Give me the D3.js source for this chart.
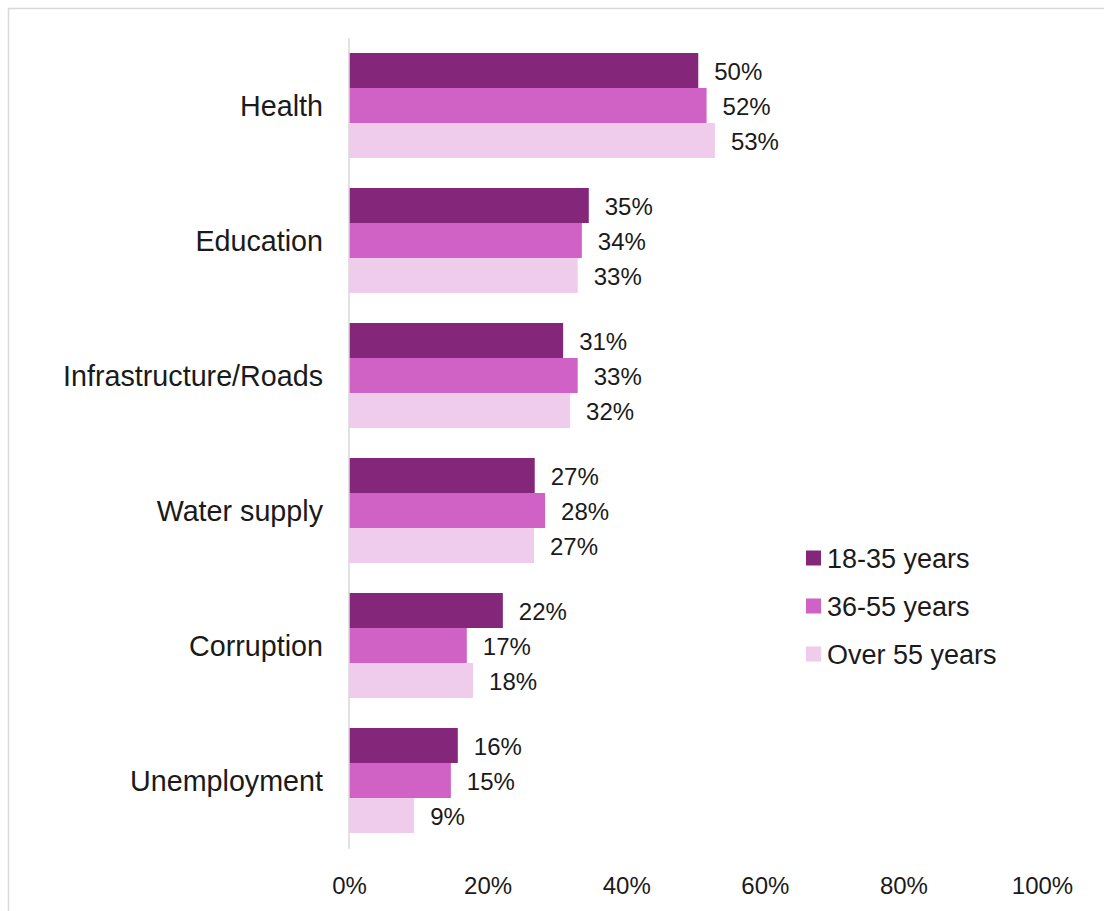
<!DOCTYPE html>
<html>
<head>
<meta charset="utf-8">
<script src="https://cdn.jsdelivr.net/npm/d3@7/dist/d3.min.js"></script>
<style>
  html, body { margin: 0; padding: 0; background: #fff; }
  svg { display: block; }
  text { font-family: "Liberation Sans", Arial, sans-serif; fill: #1a1a1a; }
</style>
</head>
<body>
<svg id="chart" width="1104" height="911"></svg>
<script>
const categories = ["Health", "Education", "Infrastructure/Roads", "Water supply", "Corruption", "Unemployment"];
const seriesNames = ["18-35 years", "36-55 years", "Over 55 years"];
const seriesColors = ["#84277A", "#D062C6", "#EFCCEC"];
const values1835 = [50.4, 34.6, 30.9, 26.8, 22.2, 15.7];
const values3655 = [51.6, 33.6, 33.0, 28.3, 17.0, 14.7];
const valuesOver55 = [52.8, 33.0, 31.9, 26.7, 17.9, 9.4];
const labels1835 = ["50%", "35%", "31%", "27%", "22%", "16%"];
const labels3655 = ["52%", "34%", "33%", "28%", "17%", "15%"];
const labelsOver55 = ["53%", "33%", "32%", "27%", "18%", "9%"];
const tickValues = [0, 20, 40, 60, 80, 100];
const tickLabels = ["0%", "20%", "40%", "60%", "80%", "100%"];

const seriesValues = [values1835, values3655, valuesOver55];
const seriesLabels = [labels1835, labels3655, labelsOver55];

const svg = d3.select("#chart");

// outer frame
svg.append("rect")
  .attr("x", 8.5).attr("y", 8.5)
  .attr("width", 1200).attr("height", 1000)
  .attr("fill", "none").attr("stroke", "#d9d9d9").attr("stroke-width", 1.5);

const x = d3.scaleLinear().domain([0, 100]).range([349, 1042]);
const y = d3.scaleBand().domain(categories).range([38, 848]).paddingInner(30/135).paddingOuter(15/135);
const ySub = d3.scaleBand().domain(d3.range(seriesNames.length)).range([0, y.bandwidth()]);

// bars
seriesNames.forEach((name, si) => {
  const g = svg.append("g");
  g.selectAll("rect")
    .data(categories)
    .join("rect")
    .attr("x", x(0))
    .attr("y", (c) => y(c) + ySub(si))
    .attr("width", (c, i) => x(seriesValues[si][i]) - x(0))
    .attr("height", ySub.bandwidth())
    .attr("fill", seriesColors[si]);
  g.selectAll("text")
    .data(categories)
    .join("text")
    .attr("x", (c, i) => x(seriesValues[si][i]) + 16)
    .attr("y", (c) => y(c) + ySub(si) + ySub.bandwidth() / 2 + 1)
    .attr("dominant-baseline", "central")
    .attr("font-size", 24)
    .text((c, i) => seriesLabels[si][i]);
});

// vertical axis line + category labels
const yAxis = d3.axisLeft(y).tickSize(0).tickPadding(26);
const ya = svg.append("g").attr("transform", `translate(${x(0)},0)`).call(yAxis);
ya.select(".domain").attr("stroke", "#d9d9d9").attr("stroke-width", 1.5)
  .attr("d", `M0,38V849`);
ya.selectAll(".tick text")
  .attr("font-size", 28.7)
  .attr("font-family", "Liberation Sans, Arial, sans-serif")
  .attr("fill", "#1a1a1a")
  .attr("dy", "0.35em");

// x axis labels
const xAxis = d3.axisBottom(x).tickValues(tickValues).tickSize(0).tickPadding(0)
  .tickFormat((d, i) => tickLabels[i]);
const xa = svg.append("g").attr("transform", `translate(0,886)`).call(xAxis);
xa.select(".domain").remove();
xa.selectAll(".tick text")
  .attr("font-size", 24)
  .attr("font-family", "Liberation Sans, Arial, sans-serif")
  .attr("fill", "#1a1a1a")
  .attr("y", 0)
  .attr("dy", "0.35em");

// legend
const legend = svg.append("g");
seriesNames.forEach((name, si) => {
  const cy = 558 + si * 48;
  legend.append("rect")
    .attr("x", 806).attr("y", cy - 7.5)
    .attr("width", 15).attr("height", 15)
    .attr("fill", seriesColors[si]);
  legend.append("text")
    .attr("x", 827).attr("y", cy + 1)
    .attr("dominant-baseline", "central")
    .attr("font-size", 27)
    .text(name);
});
</script>
</body>
</html>
